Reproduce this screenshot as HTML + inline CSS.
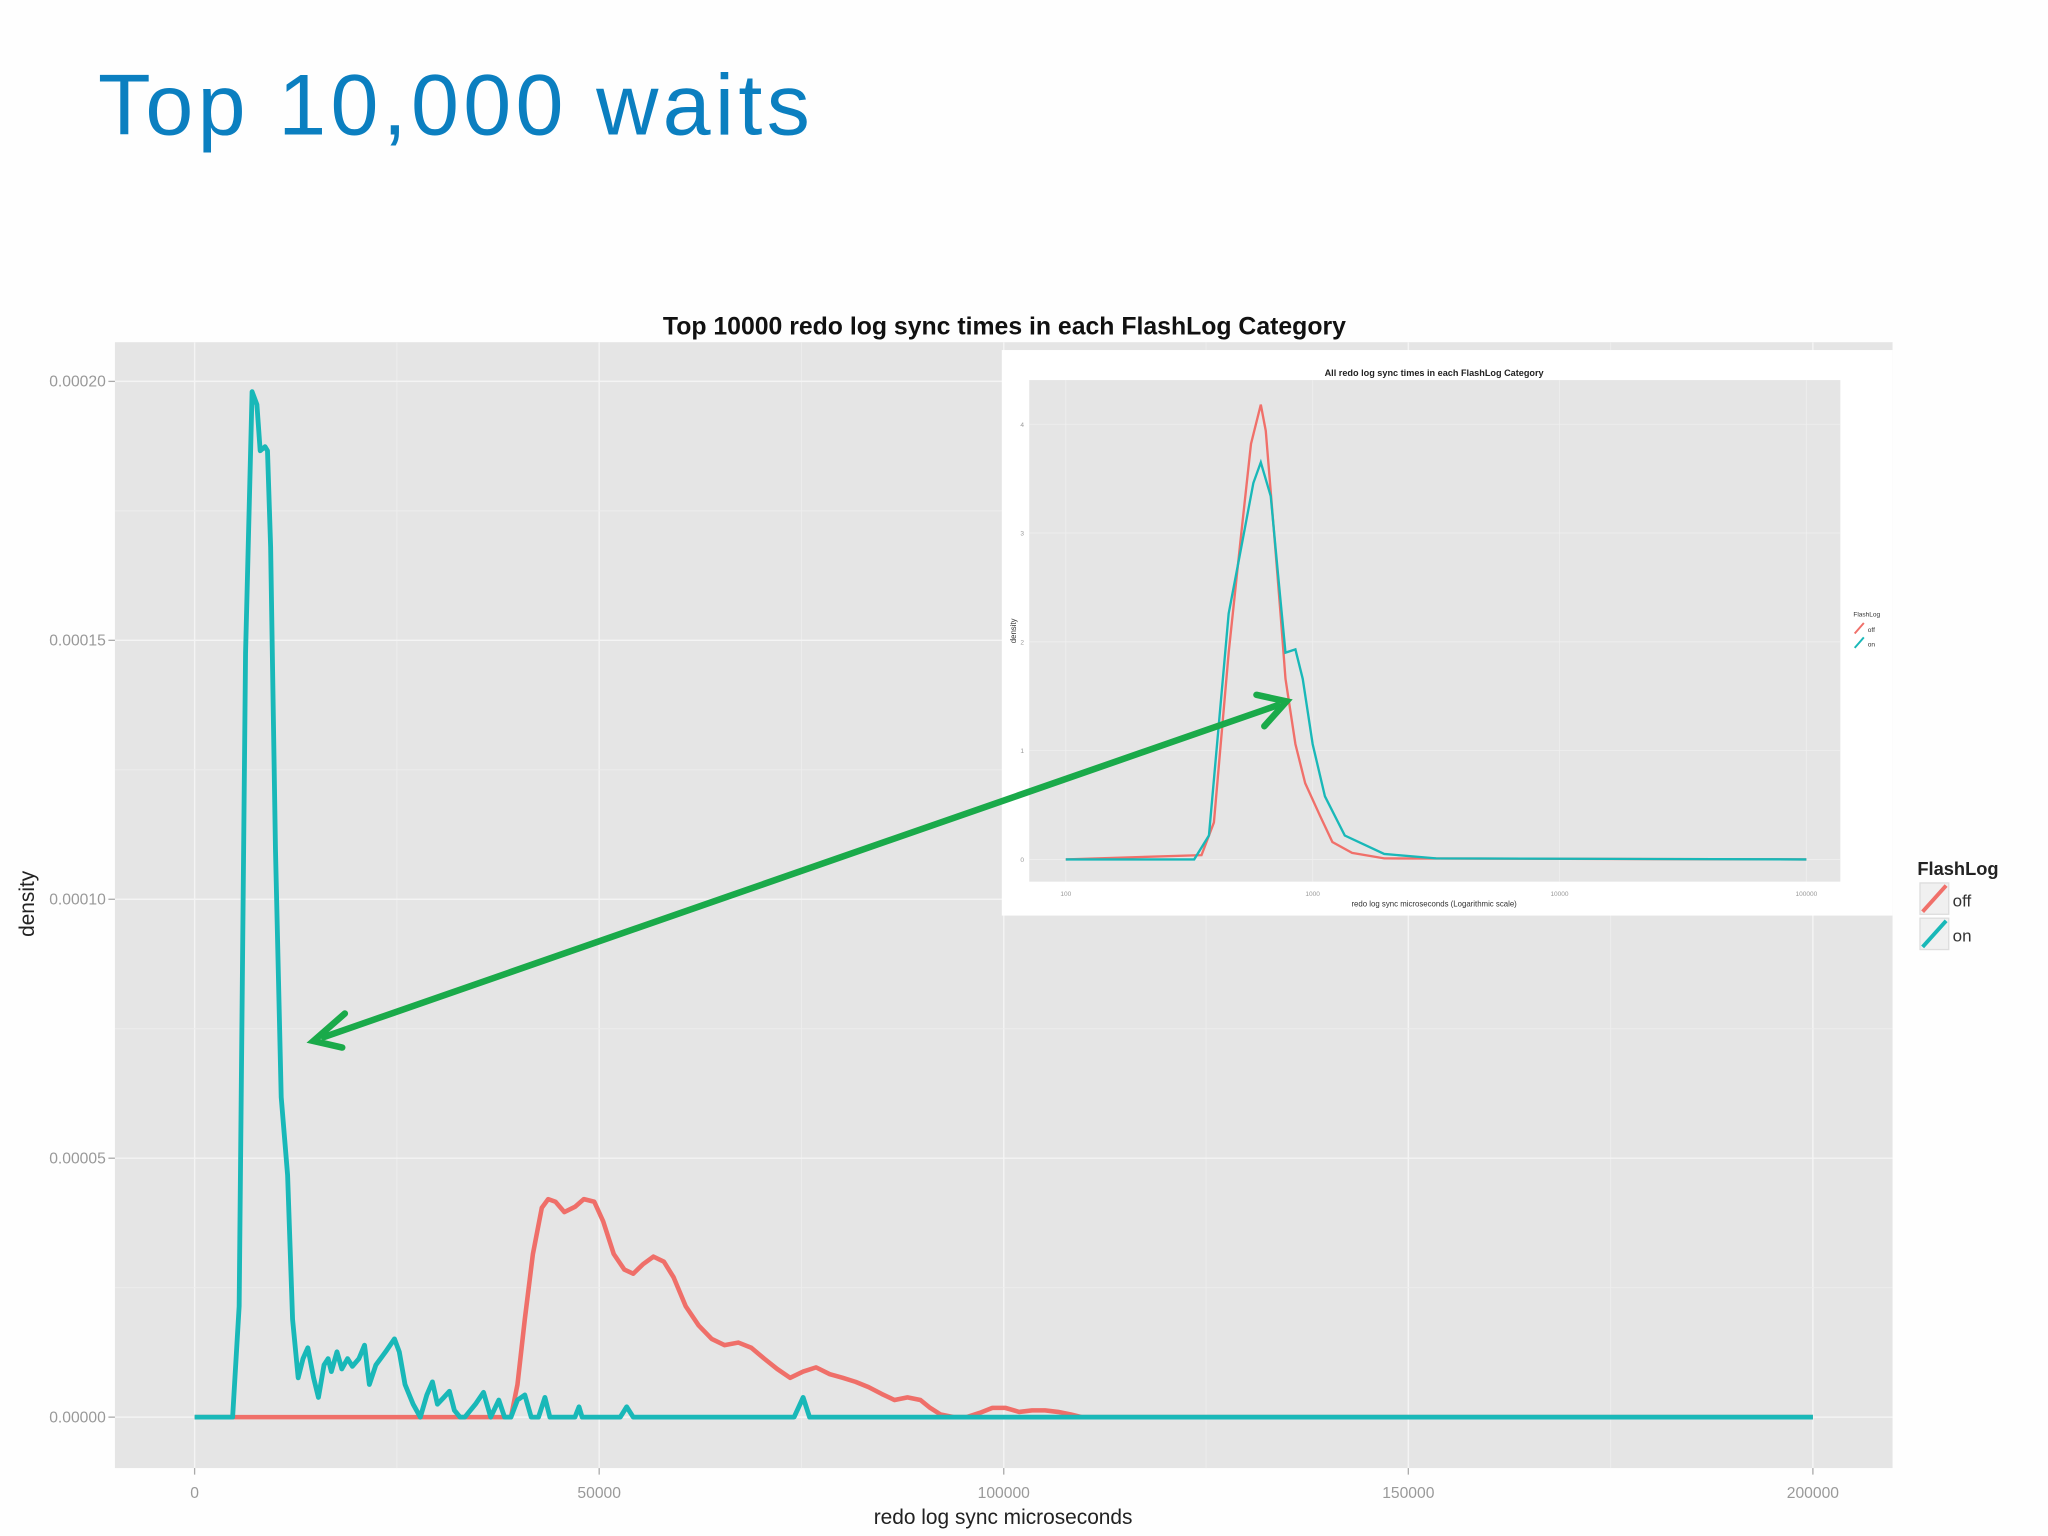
<!DOCTYPE html>
<html><head><meta charset="utf-8"><style>
html,body{margin:0;padding:0;background:#fff;}
svg{display:block;}
text{font-family:"Liberation Sans",sans-serif;}
</style></head><body>
<svg id="c" width="2048" height="1536" viewBox="0 0 1568 1176" xmlns="http://www.w3.org/2000/svg">
<rect width="1568" height="1176" fill="#fefefe"/>
<text x="75" y="103" font-size="66" fill="#0b7fc0" textLength="545" lengthAdjust="spacing">Top 10,000 waits</text>
<text x="769" y="256" font-size="19" font-weight="bold" text-anchor="middle" fill="#111">Top 10000 redo log sync times in each FlashLog Category</text>
<rect x="88" y="262" width="1361" height="862" fill="#e5e5e5"/>
<g id="grid"></g><g id="lines"></g><g id="axes"></g>
<text x="768" y="1167" font-size="16" text-anchor="middle" fill="#222">redo log sync microseconds</text>
<text transform="translate(26,692) rotate(-90)" font-size="16" text-anchor="middle" fill="#222">density</text>
<g>
<text x="1468" y="670" font-size="14" font-weight="bold" fill="#222">FlashLog</text>
<rect x="1470" y="676" width="22" height="24" fill="#f0f0f0" stroke="#ddd"/>
<line x1="1472" y1="698" x2="1490" y2="678" stroke="#f0706a" stroke-width="3"/>
<rect x="1470" y="703" width="22" height="24" fill="#f0f0f0" stroke="#ddd"/>
<line x1="1472" y1="725" x2="1490" y2="705" stroke="#19b8b8" stroke-width="3"/>
<text x="1495" y="694" font-size="13" fill="#333">off</text>
<text x="1495" y="721" font-size="13" fill="#333">on</text>
</g>
<g>
<rect x="767" y="268" width="682" height="433" fill="#fff"/>
<text x="1098" y="288" font-size="7" font-weight="bold" text-anchor="middle" fill="#222">All redo log sync times in each FlashLog Category</text>
<rect x="788" y="291" width="621" height="384" fill="#e5e5e5"/>
<g id="igrid"></g><g id="ilines"></g>
<text x="1098" y="694" font-size="6" text-anchor="middle" fill="#333">redo log sync microseconds (Logarithmic scale)</text>
<text transform="translate(778,483) rotate(-90)" font-size="6" text-anchor="middle" fill="#333">density</text>
<text x="1419" y="472" font-size="5" fill="#333">FlashLog</text>
<line x1="1420" y1="485" x2="1427" y2="477" stroke="#f0706a" stroke-width="1.5"/>
<line x1="1420" y1="496" x2="1427" y2="488" stroke="#19b8b8" stroke-width="1.5"/>
<text x="1430" y="484" font-size="5" fill="#333">off</text>
<text x="1430" y="495" font-size="5" fill="#333">on</text>
</g>
<g stroke="#1aaa4a" stroke-width="5" fill="none" stroke-linecap="round">
<line x1="248" y1="794" x2="978" y2="540"/>
<polyline points="962,532 985,537 968,556"/>
<polyline points="264,776 240,797 262,802"/>
</g>
</svg>
<script>
// main chart data (x in thousands of microseconds, density in 1e-5)
const onX=[0,4.7,5.5,6.3,7.1,7.7,8.1,8.7,9.0,9.4,10.0,10.7,11.5,12.1,12.8,13.4,14.0,14.7,15.3,16.0,16.5,16.9,17.6,18.2,18.9,19.5,20.3,21.0,21.6,22.4,23.6,24.7,25.3,26.0,27.0,27.9,28.7,29.4,30.0,30.8,31.5,32.1,32.8,33.4,34.7,35.7,36.6,37.6,38.3,39.1,39.9,40.8,41.6,42.5,43.3,43.9,47.0,47.5,47.9,52.6,53.4,54.2,74.1,75.2,76.0,200];
const onY=[0,0,2.14,14.75,19.8,19.55,18.66,18.74,18.66,16.8,10.97,6.18,4.67,1.89,0.76,1.13,1.34,0.76,0.38,1.01,1.13,0.88,1.26,0.93,1.13,0.98,1.13,1.39,0.63,1.01,1.26,1.51,1.26,0.63,0.25,0,0.43,0.68,0.25,0.38,0.50,0.13,0,0,0.25,0.48,0,0.33,0,0,0.33,0.43,0,0,0.38,0,0,0.20,0,0,0.20,0,0,0.38,0,0];
const offX=[0,39.1,39.9,40.8,41.8,42.9,43.7,44.6,45.7,47.0,48.1,49.4,50.5,51.8,53.1,54.2,55.4,56.7,58.0,59.2,60.7,62.3,63.9,65.5,67.2,68.8,70.4,72.0,73.6,75.2,76.8,78.5,80.1,81.7,83.3,84.9,86.5,88.1,89.7,90.9,92.2,93.8,95.4,97.0,98.6,100.2,101.9,103.5,105.1,106.7,108.3,109.6,200];
const offY=[0,0,0.63,1.89,3.15,4.04,4.21,4.16,3.96,4.06,4.21,4.16,3.78,3.15,2.85,2.77,2.95,3.10,3.00,2.70,2.14,1.77,1.51,1.39,1.44,1.34,1.13,0.93,0.76,0.88,0.96,0.83,0.76,0.68,0.58,0.45,0.33,0.38,0.33,0.18,0.05,0,0,0.08,0.18,0.18,0.10,0.13,0.13,0.10,0.05,0,0];
const xTicks=[0,50,100,150,200];
const xTickLabels=["0","50000","100000","150000","200000"];
const yTicks=[0,5,10,15,20];
const yTickLabels=["0.00000","0.00005","0.00010","0.00015","0.00020"];
// inset data (x in log10 microseconds)
const insOffX=[2,2.55,2.60,2.66,2.71,2.75,2.79,2.81,2.84,2.87,2.89,2.93,2.97,3.03,3.08,3.16,3.29,5];
const insOffY=[0,0.04,0.34,1.90,2.98,3.82,4.18,3.94,3.10,2.26,1.66,1.06,0.70,0.40,0.16,0.06,0.01,0];
const insOnX=[2,2.52,2.58,2.66,2.71,2.76,2.79,2.83,2.86,2.89,2.93,2.96,3.0,3.05,3.13,3.29,3.50,5];
const insOnY=[0,0,0.22,2.26,2.86,3.46,3.65,3.34,2.62,1.90,1.93,1.66,1.06,0.58,0.22,0.05,0.01,0];
const insXTicks=[2,3,4,5];
const insXLabels=["100","1000","10000","100000"];
const insYTicks=[0,1,2,3,4];

const NS="http://www.w3.org/2000/svg";
function mk(t,a,p){const e=document.createElementNS(NS,t);for(const k in a)e.setAttribute(k,a[k]);p.appendChild(e);return e;}
const X=v=>149+v*6.195, Y=v=>1085-v*39.65;
const IX=v=>816+(v-2)*189, IY=v=>658-v*83.3;
const g=document.getElementById('grid'),L=document.getElementById('lines'),A=document.getElementById('axes');
for(let i=0;i<xTicks.length;i++){
  const x=X(xTicks[i]);
  const gl=mk('line',{x1:x,x2:x,y1:262,y2:1124,stroke:'#f4f4f4','stroke-width':1.1},g);
  
  
  if(i<xTicks.length-1){const m=X((xTicks[i]+xTicks[i+1])/2);mk('line',{x1:m,x2:m,y1:262,y2:1124,stroke:'#ededed','stroke-width':0.7},g);}
  mk('line',{x1:x,x2:x,y1:1124,y2:1129,stroke:'#aaa'},A);
  const t=mk('text',{x:x,y:1147,'font-size':12,'text-anchor':'middle',fill:'#999'},A);t.textContent=xTickLabels[i];
  
  
}
for(let i=0;i<yTicks.length;i++){
  const y=Y(yTicks[i]);
  const gl=mk('line',{x1:88,x2:1449,y1:y,y2:y,stroke:'#f4f4f4','stroke-width':1.1},g);
  
  
  if(i<yTicks.length-1){const m=Y((yTicks[i]+yTicks[i+1])/2);mk('line',{x1:88,x2:1449,y1:m,y2:m,stroke:'#ededed','stroke-width':0.7},g);}
  mk('line',{x1:83,x2:88,y1:y,y2:y,stroke:'#aaa'},A);
  const t=mk('text',{x:81,y:y+4,'font-size':12,'text-anchor':'end',fill:'#999'},A);t.textContent=yTickLabels[i];
  
  
}
function path(xs,ys,fx,fy){return xs.map((v,i)=>(i?'L':'M')+fx(v).toFixed(1)+','+fy(ys[i]).toFixed(1)).join(' ');}
const pOff=mk('path',{d:path(offX,offY,X,Y),fill:'none',stroke:'#ef6f69','stroke-width':3.5,'stroke-linejoin':'round'},L);


const pOn=mk('path',{d:path(onX,onY,X,Y),fill:'none',stroke:'#19b8b8','stroke-width':3.7,'stroke-linejoin':'round'},L);


const ig=document.getElementById('igrid'),il=document.getElementById('ilines');
insXTicks.forEach((v,i)=>{const x=IX(v);mk('line',{x1:x,x2:x,y1:291,y2:675,stroke:'#efefef','stroke-width':0.6},ig);
  const t=mk('text',{x:x,y:686,'font-size':5,'text-anchor':'middle',fill:'#999'},ig);t.textContent=insXLabels[i];
  
  });
insYTicks.forEach(v=>{const y=IY(v);mk('line',{x1:788,x2:1409,y1:y,y2:y,stroke:'#efefef','stroke-width':0.6},ig);
  const t=mk('text',{x:784,y:y+2,'font-size':5,'text-anchor':'end',fill:'#999'},ig);t.textContent=String(v);
  
  });
const iOff=mk('path',{d:path(insOffX,insOffY,IX,IY),fill:'none',stroke:'#f0706a','stroke-width':1.8},il);


const iOn=mk('path',{d:path(insOnX,insOnY,IX,IY),fill:'none',stroke:'#19b8b8','stroke-width':1.8},il);


</script>
</body></html>
